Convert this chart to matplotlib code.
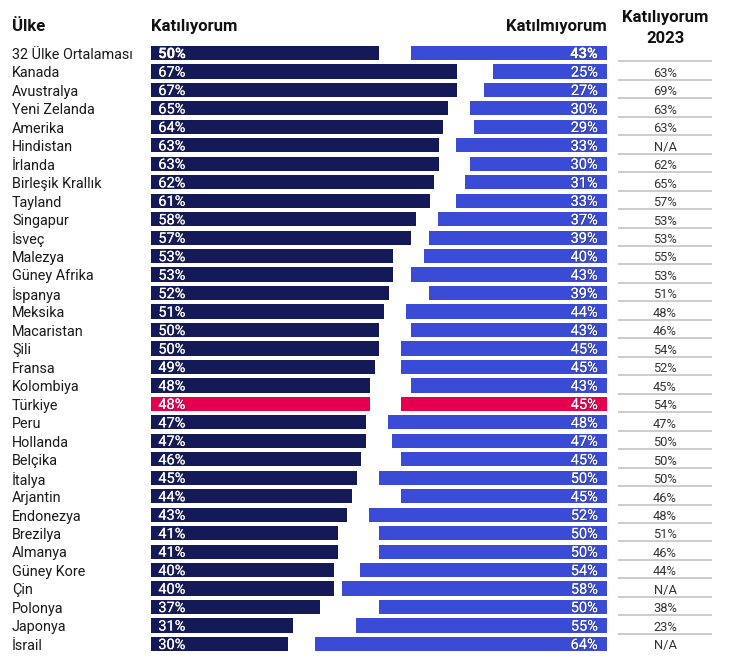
import matplotlib.pyplot as plt
import matplotlib.patheffects as pe

# Katılıyorum / Katılmıyorum by country, plus 2023 agree share
countries = ["32 Ülke Ortalaması", "Kanada", "Avustralya", "Yeni Zelanda", "Amerika",
             "Hindistan", "İrlanda", "Birleşik Krallık", "Tayland", "Singapur", "İsveç",
             "Malezya", "Güney Afrika", "İspanya", "Meksika", "Macaristan", "Şili",
             "Fransa", "Kolombiya", "Türkiye", "Peru", "Hollanda", "Belçika", "İtalya",
             "Arjantin", "Endonezya", "Brezilya", "Almanya", "Güney Kore", "Çin",
             "Polonya", "Japonya", "İsrail"]
agree = [50, 67, 67, 65, 64, 63, 63, 62, 61, 58, 57, 53, 53, 52, 51, 50, 50,
         49, 48, 48, 47, 47, 46, 45, 44, 43, 41, 41, 40, 40, 37, 31, 30]
disagree = [43, 25, 27, 30, 29, 33, 30, 31, 33, 37, 39, 40, 43, 39, 44, 43, 45,
            45, 43, 45, 48, 47, 45, 50, 45, 52, 50, 50, 54, 58, 50, 55, 64]
agree_2023 = ["", "63%", "69%", "63%", "63%", "N/A", "62%", "65%", "57%", "53%", "53%",
              "55%", "53%", "51%", "48%", "46%", "54%", "52%", "45%", "54%", "47%",
              "50%", "50%", "50%", "46%", "48%", "51%", "46%", "44%", "N/A", "38%",
              "23%", "N/A"]
highlight = "Türkiye"

NAVY = "#141a57"
BLUE = "#3a4bd6"
PINK = "#e4004f"

plt.rcParams['font.family'] = ['Roboto', 'DejaVu Sans']

fig = plt.figure(figsize=(7.37, 6.70), dpi=100)
# axes spans the bar area only; x in percent
ax = fig.add_axes([151 / 737, 0.0251, 456 / 737, 0.9096])
XMAX = 99.8
n = len(countries)
ax.set_xlim(0, XMAX)
ax.set_ylim(n - 0.5, -0.5)
ax.axis("off")

ys = list(range(n))
lcol = [PINK if c == highlight else NAVY for c in countries]
rcol = [PINK if c == highlight else BLUE for c in countries]
ax.barh(ys, agree, left=0, height=0.77, color=lcol)
ax.barh(ys, disagree, left=[XMAX - d for d in disagree], height=0.77, color=rcol)

shadow = [pe.withSimplePatchShadow(offset=(0.6, -0.6), shadow_rgbFace="#333333", alpha=0.5),
          pe.Normal()]

for i, c in enumerate(countries):
    w = "bold" if i == 0 else "normal"
    ax.text(-30.4, i + 0.1, c, ha="left", va="center", fontsize=10.4, color="#1a1a1a",
            clip_on=False)
    ax.text(1.6, i + 0.06, f"{agree[i]}%", ha="left", va="center", fontsize=10.5,
            color="white", fontweight=w, path_effects=shadow)
    ax.text(XMAX - 2.0, i + 0.06, f"{disagree[i]}%", ha="right", va="center", fontsize=10.5,
            color="white", fontweight=w, path_effects=shadow)
    if i > 0:
        ax.plot([102.2, 122.8], [i - 0.55, i - 0.55], color="#c8c8c8", lw=1.3,
                clip_on=False, solid_capstyle="butt")
        ax.text(112.5, i + 0.1, agree_2023[i], ha="center", va="center", fontsize=9.3,
                color="#333333", clip_on=False)

# headers
ax.text(-30.4, -1.42, "Ülke", ha="left", va="center", fontsize=12, fontweight="bold",
        color="#111111", clip_on=False)
ax.text(0, -1.42, "Katılıyorum", ha="left", va="center", fontsize=12, fontweight="bold",
        color="#111111", clip_on=False)
ax.text(XMAX, -1.42, "Katılmıyorum", ha="right", va="center", fontsize=12,
        fontweight="bold", color="#111111", clip_on=False)
ax.text(112.5, -1.9, "Katılıyorum", ha="center", va="center", fontsize=12,
        fontweight="bold", color="#111111", clip_on=False)
ax.text(112.5, -0.76, "2023", ha="center", va="center", fontsize=12,
        fontweight="bold", color="#111111", clip_on=False)

fig.savefig("out.png", dpi=100)
